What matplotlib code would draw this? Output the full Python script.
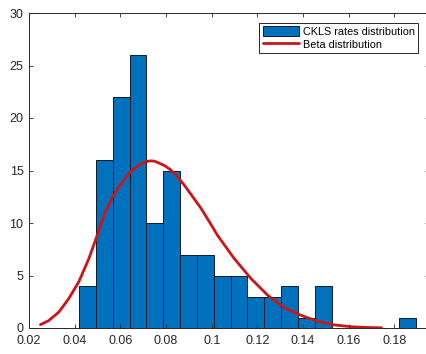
"""
CKLS rates histogram with fitted beta curve
"""
import numpy as np
import matplotlib
matplotlib.use('Agg')
import matplotlib.pyplot as plt

# %% data
bin_start = 0.0419
bin_width = 0.00737
counts = [4, 16, 22, 26, 10, 15, 7, 7, 5, 5, 3, 3, 4, 1, 4, 0, 0, 0, 0, 1]

beta_x = [0.0250, 0.0286, 0.0330, 0.0374, 0.0418, 0.0462, 0.0498, 0.0535,
          0.0571, 0.0608, 0.0645, 0.0681, 0.0700, 0.0720, 0.0735, 0.0750,
          0.0765, 0.0795, 0.0821, 0.0850, 0.0880, 0.0915, 0.0953, 0.0990,
          0.1026, 0.1099, 0.1172, 0.1246, 0.1319, 0.1392, 0.1465,
          0.1538, 0.1611, 0.1680, 0.1743]
beta_y = [0.32, 0.7, 1.5, 2.8, 4.4, 6.6, 8.8, 11.1,
          12.7, 13.9, 14.9, 15.5, 15.72, 15.88, 15.92, 15.88,
          15.75, 15.45, 15.05, 14.4, 13.6, 12.55, 11.4, 10.1,
          8.8, 6.6, 4.7, 3.1, 1.9, 1.2, 0.63,
          0.29, 0.12, 0.05, 0.02]

xticks = [0.02, 0.04, 0.06, 0.08, 0.1, 0.12, 0.14, 0.16, 0.18]
xticklabels = ['0.02', '0.04', '0.06', '0.08', '0.1', '0.12', '0.14', '0.16', '0.18']
yticks = [0, 5, 10, 15, 20, 25, 30]

# %% plot
plt.rcParams['font.family'] = ['Liberation Sans', 'DejaVu Sans']
axis_grey = '0.15'

fig = plt.figure(figsize=(4.27, 3.54), dpi=100)
ax = fig.add_axes([29 / 427, 26 / 354, 1.004 - 29 / 427, 315 / 354])

edges = bin_start + bin_width * np.arange(len(counts) + 1)
bars = ax.bar(edges[:-1], counts, width=np.diff(edges), align='edge',
              color='#0072BD', edgecolor='#0d1a2a', linewidth=0.7,
              label='CKLS rates distribution')
line, = ax.plot(beta_x, beta_y, color='#CC1518', linewidth=2.0,
                solid_capstyle='round', solid_joinstyle='round',
                label='Beta distribution')

ax.set_xlim(0.02, 0.195)
ax.set_ylim(0, 30)
ax.set_xticks(xticks)
ax.set_xticklabels(xticklabels)
ax.set_yticks(yticks)
ax.tick_params(direction='in', length=3, width=0.6, top=True, right=True,
               labelsize=9, colors=axis_grey)
ax.tick_params(axis='x', pad=5)
ax.tick_params(axis='y', pad=4)
for s in ax.spines.values():
    s.set_color(axis_grey)
    s.set_linewidth(0.7)

leg = ax.legend(handles=[bars, line], loc='upper right',
                bbox_to_anchor=(418 / 427, 1 - 23 / 354),
                bbox_transform=fig.transFigure, fontsize=7.8, fancybox=False,
                framealpha=1, edgecolor=axis_grey, handlelength=3.4,
                handleheight=1.0, handletextpad=0.3, labelspacing=0.2,
                borderpad=0.3, borderaxespad=0)
leg.get_frame().set_linewidth(0.7)

plt.savefig('out.png', dpi=100)
